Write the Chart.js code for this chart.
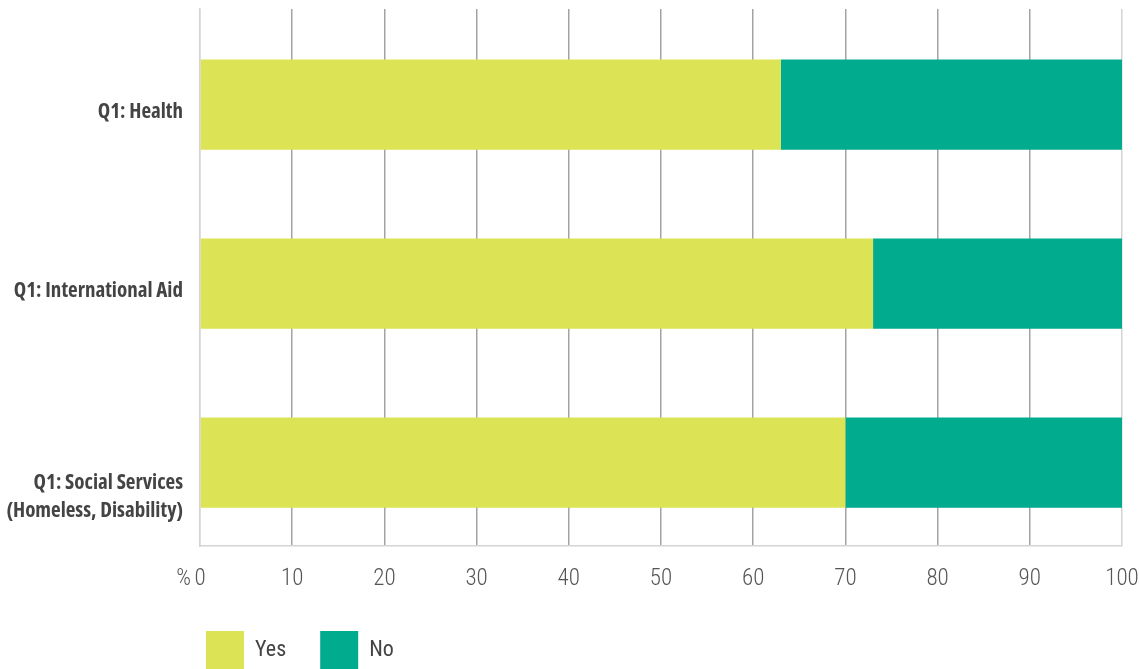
<!DOCTYPE html>
<html>
<head>
<meta charset="utf-8">
<style>
  html, body { margin: 0; padding: 0; background: #ffffff; }
  #wrap { width: 1139px; height: 669px; }
</style>
<script src="https://cdn.jsdelivr.net/npm/chart.js@4.4.1/dist/chart.umd.min.js"></script>
</head>
<body>
<div id="wrap"><canvas id="chart" width="1139" height="669"></canvas></div>
<script>
// Survey answers, percent of respondents
const categories = [
  ['Q1: Health'],
  ['Q1: International Aid'],
  ['', '', 'Q1: Social Services', '(Homeless, Disability)']
];
const yesValues = [63, 73, 70];
const noValues = [37, 27, 30];
const seriesNames = ['Yes', 'No'];
const tickValues = [0, 10, 20, 30, 40, 50, 60, 70, 80, 90, 100];

const YES_COLOR = '#dce354';
const NO_COLOR = '#00ab8e';
const TICK_SIZE = 23;
const TICK_PAD = 19;
const AXIS_HEIGHT = 48;
const LEGEND_PAD = 34;
const ROW_SHIFT = 0.034; // rows sit slightly below the centre of their band

// "%" unit marker just left of the zero tick
const percentMarker = {
  id: 'percentMarker',
  afterDraw(chart) {
    const xs = chart.scales.x;
    const ctx = chart.ctx;
    ctx.save();
    ctx.font = 'condensed 300 ' + TICK_SIZE + 'px Roboto';
    ctx.fillStyle = '#555555';
    ctx.textAlign = 'right';
    ctx.textBaseline = 'middle';
    ctx.fillText('%', xs.getPixelForValue(0) - 9, xs.top + TICK_PAD + TICK_SIZE * 0.6);
    ctx.restore();
  }
};

// Legend sits under the axis, lined up with the plot's left edge
const legendPlacement = {
  id: 'legendPlacement',
  afterLayout(chart) {
    const lg = chart.legend;
    const w = lg.width;
    lg.left = chart.chartArea.left + 6 - LEGEND_PAD;
    lg.right = lg.left + w;
    lg.top = 631 - LEGEND_PAD;
  }
};

new Chart(document.getElementById('chart'), {
  type: 'bar',
  data: {
    labels: categories,
    datasets: [
      { label: seriesNames[0], data: yesValues, backgroundColor: YES_COLOR, borderWidth: 0 },
      { label: seriesNames[1], data: noValues, backgroundColor: NO_COLOR, borderWidth: 0 }
    ]
  },
  options: {
    indexAxis: 'y',
    responsive: false,
    animation: false,
    barPercentage: 1,
    categoryPercentage: 0.505,
    layout: { padding: { top: 9, right: 17, left: 0, bottom: 0 } },
    plugins: {
      tooltip: { enabled: false },
      legend: {
        position: 'bottom',
        align: 'start',
        maxHeight: 669 - 548 - AXIS_HEIGHT + 2,
        labels: {
          boxWidth: 38,
          boxHeight: 38,
          padding: LEGEND_PAD,
          color: '#444444',
          font: { family: 'Roboto', size: 22, weight: 'condensed 400' }
        }
      }
    },
    scales: {
      x: {
        stacked: true,
        min: 0,
        max: 100,
        afterBuildTicks(scale) {
          scale.ticks = tickValues.map(v => ({ value: v }));
        },
        afterFit(scale) {
          scale.height = AXIS_HEIGHT;
          scale.paddingLeft = 0;
          scale.paddingRight = 0;
        },
        grid: {
          drawTicks: false,
          lineWidth: 1.5,
          color: ctx => (ctx.index === 0 || ctx.index === tickValues.length - 1) ? '#d4d4d4' : '#a3a3a3'
        },
        border: { color: '#d4d4d4', width: 1.5 },
        ticks: {
          padding: TICK_PAD,
          color: '#555555',
          maxRotation: 0,
          font: { family: 'Roboto', size: TICK_SIZE, weight: 'condensed 300' }
        }
      },
      y: {
        stacked: true,
        afterBuildTicks(scale) {
          scale._startValue -= ROW_SHIFT;
        },
        afterFit(scale) {
          scale.width = 200;
          scale.paddingTop = 0;
          scale.paddingBottom = 0;
        },
        grid: { display: false, drawTicks: false },
        border: { color: '#d4d4d4', width: 1.5 },
        ticks: {
          padding: 17,
          labelOffset: 7,
          color: '#444444',
          font: { family: "'Open Sans'", size: 21, weight: 'condensed bold', lineHeight: 1.3 }
        }
      }
    }
  },
  plugins: [percentMarker, legendPlacement]
});
</script>
</body>
</html>
